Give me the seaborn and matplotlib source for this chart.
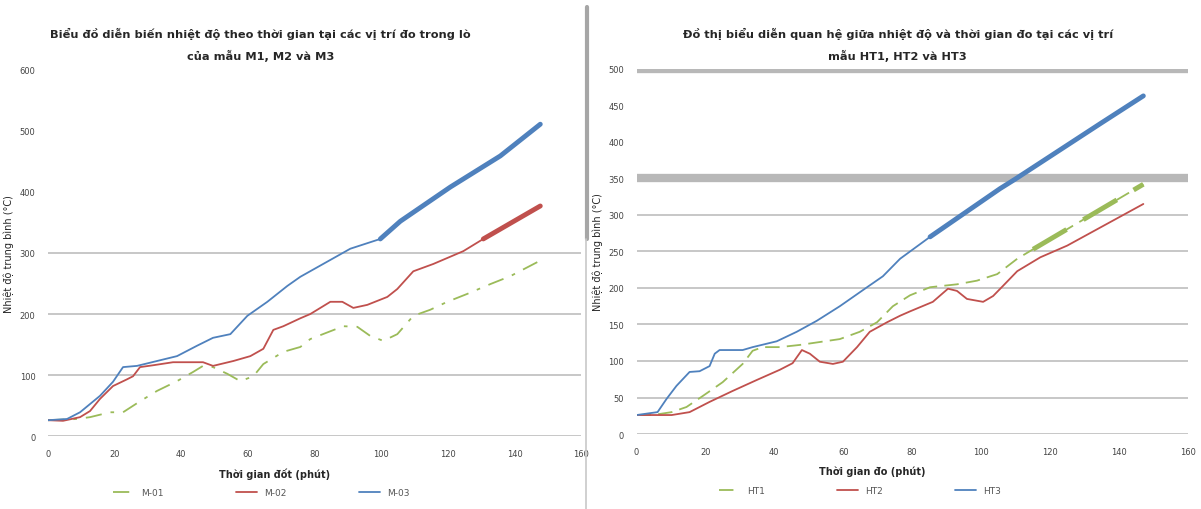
import matplotlib
matplotlib.use("Agg")
import matplotlib.pyplot as plt
from matplotlib.lines import Line2D
import seaborn as sns
import pandas as pd

# ---------------- data ----------------
# left panel
left_blue_x = [0, 5.7, 9.6, 15.6, 19.5, 22.5, 26.7, 32.7, 38.7, 44.7, 49.5, 54.7, 59.8, 65.8,
               71.8, 75.7, 90.7, 99.7, 105.7, 120.7, 135.7, 147.7]
left_blue_y = [26, 28, 39, 66, 89, 113, 115, 123, 131, 148, 161, 167, 197, 220,
               246, 261, 307, 323, 352, 408, 459, 511]

left_red_x = [0, 4.5, 9.6, 12.6, 15.6, 19.5, 23.7, 25.5, 27.6, 31.5, 37.5, 46.5, 49.5, 55.6,
              60.7, 64.6, 67.6, 70.6, 75.7, 78.7, 84.7, 88.3, 91.6, 95.8, 101.8, 104.8,
              109.6, 115.6, 124.6, 130.6, 147.7]
left_red_y = [26, 25, 31, 41, 61, 82, 93, 98, 113, 116, 121, 121, 115, 123,
              131, 143, 174, 180, 193, 200, 220, 220, 210, 215, 228, 241,
              270, 282, 303, 323, 377]

left_green_x = [0, 8.7, 12.6, 18.6, 22.5, 27.6, 32.7, 38.7, 43.5, 46.5, 49.5, 53.8, 57.7, 61.6,
                64.6, 70.6, 75.7, 78.7, 88.6, 92.8, 96.7, 100.6, 104.8, 109.6, 114.7,
                119.8, 125.8, 132.7, 138.7, 146.8]
left_green_y = [26, 28, 31, 39, 39, 57, 74, 90, 105, 115, 113, 102, 90, 98,
                118, 138, 146, 159, 180, 179, 164, 156, 167, 197, 207,
                220, 233, 249, 262, 285]

# right panel
right_blue_x = [0, 6.1, 8.7, 11.6, 15.4, 18.3, 21.2, 22.7, 24.1, 30.8, 33.7, 40.7, 46.5, 52.3,
                59.0, 66.9, 71.5, 76.5, 85.2, 105.5, 109.9, 134.6, 147.1]
right_blue_y = [26, 30, 48, 66, 85, 86, 93, 110, 115, 115, 119, 127, 140, 155,
                175, 201, 216, 240, 270, 336, 349, 425, 463]

right_red_x = [0, 4.7, 10.2, 15.4, 21.2, 27.9, 34.9, 41.6, 45.3, 48.0, 50.3, 53.2, 57.0, 59.9,
               64.0, 67.7, 72.7, 76.5, 79.4, 86.0, 90.4, 93.0, 95.9, 100.6, 103.5, 106.4,
               110.5, 117.2, 125.0, 147.1]
right_red_y = [26, 26, 26, 30, 44, 59, 74, 88, 97, 115, 110, 99, 96, 99,
               119, 140, 153, 162, 168, 181, 199, 196, 185, 181, 189, 203,
               223, 242, 258, 315]

right_green_x = [0, 4.7, 10.2, 14.5, 19.2, 25.0, 30.8, 33.7, 36.6, 41.6, 47.4, 53.2, 59.0, 64.8,
                 69.8, 74.4, 79.4, 85.2, 93.0, 98.8, 104.7, 110.5, 115.1, 147.1]
right_green_y = [26, 26, 30, 37, 52, 71, 96, 114, 119, 119, 122, 126, 130, 140,
                 153, 175, 190, 201, 205, 210, 219, 240, 253, 342]

left_labels = ["M-01", "M-02", "M-03"]
right_labels = ["HT1", "HT2", "HT3"]

left_title = ("Biểu đồ diễn biến nhiệt độ theo thời gian tại các vị trí đo trong lò\n"
              "của mẫu M1, M2 và M3")
right_title = ("Đồ thị biểu diễn quan hệ giữa nhiệt độ và thời gian đo tại các vị trí\n"
               "mẫu HT1, HT2 và HT3")

BLUE = "#4f81bd"
RED = "#c0504d"
GREEN = "#9bbb59"

sns.set_style("white")
plt.rcParams["font.family"] = ["DejaVu Sans"]

fig = plt.figure(figsize=(12.01, 5.10), dpi=100)
ax1 = fig.add_axes([0.040, 0.143, 0.444, 0.718])
ax2 = fig.add_axes([0.530, 0.147, 0.459, 0.716])


def draw(ax, x, y, color, label, ls, thick_from=None):
    df = pd.DataFrame({"x": x, "y": y})
    sns.lineplot(data=df, x="x", y="y", ax=ax, color=color, lw=1.3,
                 linestyle=ls, label=label, sort=False)
    if thick_from is not None:
        sub = df[df.x >= thick_from]
        sns.lineplot(data=sub, x="x", y="y", ax=ax, color=color, lw=3.5,
                     linestyle=ls, legend=False, sort=False)


# ---------- left ----------
draw(ax1, left_green_x, left_green_y, GREEN, left_labels[0], (0, (9, 5, 2, 5)))
draw(ax1, left_red_x, left_red_y, RED, left_labels[1], "-", thick_from=128)
draw(ax1, left_blue_x, left_blue_y, BLUE, left_labels[2], "-", thick_from=98)
ax1.set_xlim(0, 160)
ax1.set_ylim(0, 600)
ax1.set_xticks(range(0, 161, 20))
ax1.set_yticks(range(0, 601, 100))
for g in [0, 100, 200, 300]:
    ax1.axhline(g, color="#bdbdbd", lw=1.2, zorder=0)
ax1.set_xlabel("Thời gian đốt (phút)", fontsize=7, fontweight="bold")
ax1.set_ylabel("Nhiệt độ trung bình (°C)", fontsize=7)
ax1.text(0.398, 1.071, left_title, transform=ax1.transAxes, ha="center", va="center",
         fontsize=8.2, fontweight="bold", linespacing=2.0)
ax1.xaxis.set_label_coords(0.424, -0.085)
leg_x1 = 0.40

# ---------- right ----------
draw(ax2, right_green_x, right_green_y, GREEN, right_labels[0], (0, (8, 4)), thick_from=115)
draw(ax2, right_red_x, right_red_y, RED, right_labels[1], "-", thick_from=128)
draw(ax2, right_blue_x, right_blue_y, BLUE, right_labels[2], "-", thick_from=85)
ax2.set_xlim(0, 160)
ax2.set_ylim(0, 500)
ax2.set_xticks(range(0, 161, 20))
ax2.set_yticks(range(0, 501, 50))
for g in range(0, 301, 50):
    ax2.axhline(g, color="#bdbdbd", lw=1.2, zorder=0)
for g in [350, 500]:
    ax2.axhline(g, color="#b8b8b8", lw=6, zorder=0)
ax2.set_xlabel("Thời gian đo (phút)", fontsize=7, fontweight="bold")
ax2.set_ylabel("Nhiệt độ trung bình (°C)", fontsize=7)
ax2.text(0.474, 1.068, right_title, transform=ax2.transAxes, ha="center", va="center",
         fontsize=8.2, fontweight="bold", linespacing=2.0)
ax2.xaxis.set_label_coords(0.427, -0.085)
leg_x2 = 0.405

for ax, lx in ((ax1, leg_x1), (ax2, leg_x2)):
    for s in ax.spines.values():
        s.set_visible(False)
    ax.tick_params(labelsize=6, colors="#444444", length=0, pad=9)
    h, l = ax.get_legend_handles_labels()
    ax.legend(h, l, loc="upper center", bbox_to_anchor=(lx, -0.12), ncol=3,
              frameon=False, fontsize=6.5, columnspacing=8, handlelength=2.3,
              labelcolor="#555555")

# panel separator
fig.add_artist(Line2D([0.489, 0.489], [0.53, 0.985], color="#a6a6a6", lw=3))
fig.add_artist(Line2D([0.488, 0.488], [0.0, 0.53], color="#c8c8c8", lw=1.2))

fig.savefig("out.png", dpi=100, facecolor="white")
